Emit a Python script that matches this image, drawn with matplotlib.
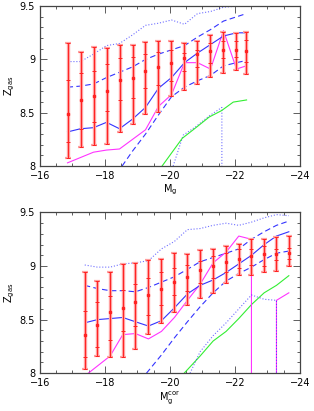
import numpy as np
import matplotlib
matplotlib.use('Agg')
import matplotlib.pyplot as plt
from matplotlib.ticker import MultipleLocator

# ---------------- top panel (M_g) ----------------
top_x = [-16.85, -17.25, -17.65, -18.05, -18.45, -18.85, -19.25, -19.65,
         -20.05, -20.45, -20.85, -21.25, -21.65, -22.05, -22.35]
top_med = [8.49, 8.62, 8.66, 8.70, 8.81, 8.83, 8.89, 8.93, 8.97, 9.01, 9.05, 9.08, 9.09, 9.09, 9.08]
top_hi2 = [9.15, 9.07, 9.12, 9.11, 9.14, 9.14, 9.16, 9.17, 9.17, 9.15, 9.17, 9.23, 9.26, 9.25, 9.26]
top_hi1 = [8.81, 8.87, 8.89, 8.96, 9.01, 9.02, 9.05, 9.07, 9.09, 9.06, 9.09, 9.15, 9.17, 9.17, 9.18]
top_lo1 = [8.23, 8.35, 8.41, 8.52, 8.62, 8.64, 8.73, 8.76, 8.80, 8.89, 8.93, 8.97, 9.01, 9.02, 8.98]
top_lo2 = [8.08, 8.18, 8.20, 8.21, 8.32, 8.39, 8.49, 8.51, 8.66, 8.71, 8.77, 8.84, 8.87, 8.90, 8.86]

top_blue = [8.32, 8.35, 8.36, 8.41, 8.35, 8.44, 8.55, 8.73, 8.83, 8.97, 9.06, 9.14, 9.22, 9.25, 9.25]
top_dash_hi = [8.74, 8.75, 8.77, 8.83, 8.88, 8.93, 9.00, 9.05, 9.09, 9.13, 9.21, 9.28, 9.36, 9.40, 9.43]
top_dot_hi_x = top_x[:14]
top_dot_hi = [8.98, 8.98, 9.05, 9.13, 9.15, 9.23, 9.32, 9.34, 9.37, 9.33, 9.43, 9.45, 9.49, 9.50]

top_mag = [8.03, 8.08, 8.13, 8.15, 8.16, 8.25, 8.34, 8.56, 8.67, 8.97, 8.97, 8.91, 9.27, 8.91, 8.94]

top_dash_lo_x = [-18.53, -18.85, -19.25, -19.65, -20.05, -20.45, -20.85, -21.25, -21.65, -22.05, -22.35]
top_dash_lo = [8.00, 8.14, 8.30, 8.48, 8.65, 8.74, 8.80, 8.85, 8.94, 8.97, 8.99]

top_dot_lo_x = [-20.10, -20.41, -20.80, -21.21, -21.60, -21.60]
top_dot_lo = [8.00, 8.29, 8.37, 8.47, 8.55, 8.00]

top_green_x = [-19.76, -20.38, -20.80, -21.21, -21.59, -21.95, -22.36]
top_green = [8.00, 8.26, 8.36, 8.46, 8.52, 8.60, 8.62]

# ---------------- bottom panel (M_g^cor) ----------------
bot_x = [-17.38, -17.77, -18.16, -18.55, -18.94, -19.34, -19.74, -20.14, -20.54,
         -20.93, -21.33, -21.73, -22.12, -22.51, -22.90, -23.28, -23.66]
bot_med = [8.36, 8.45, 8.57, 8.61, 8.66, 8.73, 8.79, 8.85, 8.90, 8.96, 9.00, 9.04, 9.07, 9.09, 9.11, 9.11, 9.12]
bot_hi2 = [8.94, 8.86, 8.94, 9.02, 9.03, 9.06, 9.07, 9.12, 9.11, 9.15, 9.16, 9.19, 9.21, 9.25, 9.25, 9.27, 9.28]
bot_hi1 = [8.58, 8.66, 8.72, 8.78, 8.83, 8.89, 8.94, 8.98, 9.01, 9.05, 9.09, 9.12, 9.16, 9.16, 9.19, 9.16, 9.17]
bot_lo1 = [8.15, 8.24, 8.31, 8.39, 8.44, 8.54, 8.64, 8.73, 8.77, 8.84, 8.89, 8.94, 8.98, 9.01, 9.00, 9.06, 9.07]
bot_lo2 = [8.04, 8.16, 8.15, 8.15, 8.23, 8.37, 8.47, 8.57, 8.64, 8.70, 8.75, 8.84, 8.92, 8.92, 8.94, 8.95, 9.00]

bot_blue = [8.47, 8.50, 8.51, 8.52, 8.48, 8.44, 8.49, 8.61, 8.74, 8.82, 8.87, 8.94, 9.02, 9.10, 9.20, 9.28, 9.32]
bot_dash_hi = [8.82, 8.79, 8.77, 8.77, 8.76, 8.80, 8.85, 8.90, 8.97, 9.04, 9.08, 9.12, 9.16, 9.25, 9.32, 9.38, 9.42]
bot_dot_hi = [9.01, 8.99, 8.99, 9.02, 9.03, 9.05, 9.16, 9.23, 9.34, 9.35, 9.38, 9.40, 9.38, 9.41, 9.45, 9.48, 9.47]

bot_dash_lo_x = [-19.28, -19.74, -20.14, -20.54, -20.93, -21.33, -21.73, -22.12, -22.51, -22.90, -23.28, -23.66]
bot_dash_lo = [8.00, 8.17, 8.33, 8.48, 8.62, 8.75, 8.86, 8.93, 8.99, 9.06, 9.12, 9.14]

bot_mag_x = [-17.49, -18.16, -18.55, -18.94, -19.34, -19.74, -20.14, -20.54, -20.93,
             -21.33, -21.73, -22.12, -22.51, -22.51]
bot_mag = [8.00, 8.16, 8.36, 8.37, 8.32, 8.39, 8.52, 8.68, 8.83, 9.03, 9.13, 9.28, 9.25, 8.00]
bot_mag2_x = [-23.28, -23.28, -23.66]
bot_mag2 = [8.00, 8.68, 8.75]

bot_dot_lo_x = [-20.62, -20.93, -21.33, -21.73, -22.12, -22.51, -22.90, -23.28, -23.28]
bot_dot_lo = [8.00, 8.20, 8.35, 8.47, 8.60, 8.73, 8.69, 8.68, 8.00]

bot_green_x = [-20.44, -20.93, -21.33, -21.73, -22.12, -22.51, -22.90, -23.28, -23.66]
bot_green = [8.00, 8.16, 8.30, 8.39, 8.51, 8.64, 8.75, 8.82, 8.91]

BLUE = '#3333ff'
MAG = '#ff33ff'
GREEN = '#33ee33'
RED = '#ff2222'
PINK = '#ffa0a0'


def style_axes(ax, xlabel):
    ax.set_xlim(-16, -24)
    ax.set_ylim(8, 9.5)
    ax.xaxis.set_major_locator(MultipleLocator(2))
    ax.xaxis.set_minor_locator(MultipleLocator(0.5))
    ax.yaxis.set_minor_locator(MultipleLocator(0.1))
    ax.set_yticks([8, 8.5, 9, 9.5])
    ax.set_yticklabels(['8', '8.5', '9', '9.5'])
    ax.tick_params(which='both', direction='in', top=True, right=True, labelsize=7,
                   color='#444444', width=0.6)
    ax.tick_params(which='major', length=5)
    ax.tick_params(which='minor', length=2.5)
    for s in ax.spines.values():
        s.set_linewidth(0.9)
        s.set_color('#444444')
    ax.set_xlabel(xlabel, fontsize=7, labelpad=1)
    ax.set_ylabel(r'$\mathrm{Z_{gas}}$', fontsize=7, labelpad=2)


def draw_bars(ax, x, med, lo2, lo1, hi1, hi2):
    # thick pink band with thin red line on top, caps at ends, ticks at inner range
    ax.vlines(x, lo2, hi2, color=PINK, lw=2.4, zorder=3)
    ax.vlines(x, lo2, hi2, color=RED, lw=0.7, zorder=4)
    ax.plot(x, hi2, ls='none', marker='_', ms=4, mew=1.6, color=PINK, zorder=3)
    ax.plot(x, lo2, ls='none', marker='_', ms=4, mew=1.6, color=PINK, zorder=3)
    for vals in (hi2, lo2, hi1, lo1):
        ax.plot(x, vals, ls='none', marker='_', ms=3.2, mew=0.7, color=RED, zorder=4)
    ax.plot(x, med, ls='none', marker='s', ms=2, color=RED, zorder=5)


fig = plt.figure(figsize=(3.14, 4.11), dpi=100)
ax1 = fig.add_axes([0.127, 0.596, 0.828, 0.389])
ax2 = fig.add_axes([0.127, 0.092, 0.828, 0.391])

# top panel
ax1.plot(top_dot_hi_x, top_dot_hi, color=BLUE, ls=':', lw=0.8, alpha=0.7)
ax1.plot(top_x, top_dash_hi, color=BLUE, ls=(0, (5, 3)), lw=0.8)
ax1.plot(top_dash_lo_x, top_dash_lo, color=BLUE, ls=(0, (5, 3)), lw=0.8)
ax1.plot(top_dot_lo_x, top_dot_lo, color=BLUE, ls=':', lw=0.8, alpha=0.7)
ax1.plot(top_green_x, top_green, color=GREEN, lw=0.8)
ax1.plot(top_x, top_mag, color=MAG, lw=0.8)
ax1.plot(top_x, top_blue, color=BLUE, lw=0.8)
draw_bars(ax1, top_x, top_med, top_lo2, top_lo1, top_hi1, top_hi2)
style_axes(ax1, r'$\mathrm{M_g}$')

# bottom panel
ax2.plot(bot_x, bot_dot_hi, color=BLUE, ls=':', lw=0.8, alpha=0.7)
ax2.plot(bot_x, bot_dash_hi, color=BLUE, ls=(0, (5, 3)), lw=0.8)
ax2.plot(bot_dash_lo_x, bot_dash_lo, color=BLUE, ls=(0, (5, 3)), lw=0.8)
ax2.plot(bot_green_x, bot_green, color=GREEN, lw=0.8)
ax2.plot(bot_mag_x, bot_mag, color=MAG, lw=0.8)
ax2.plot(bot_mag2_x, bot_mag2, color=MAG, lw=0.8)
ax2.plot(bot_dot_lo_x, bot_dot_lo, color=BLUE, ls=':', lw=0.8, alpha=0.7)
ax2.plot(bot_x, bot_blue, color=BLUE, lw=0.8)
draw_bars(ax2, bot_x, bot_med, bot_lo2, bot_lo1, bot_hi1, bot_hi2)
style_axes(ax2, r'$\mathrm{M_g^{cor}}$')

fig.savefig('out.png', dpi=100)
